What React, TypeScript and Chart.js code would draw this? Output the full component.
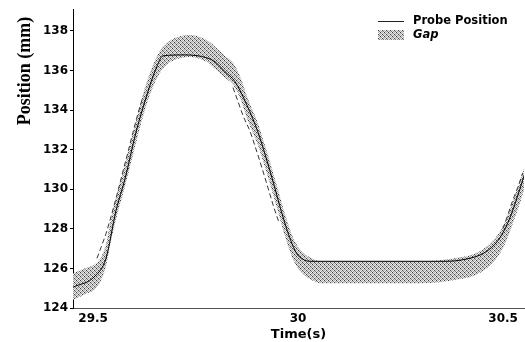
import React, { useEffect, useRef } from 'react';
import { Chart, registerables } from 'chart.js';

Chart.register(...registerables);

// ---- data ----
const bandTimes = [
  29.451, 29.4803, 29.5047, 29.5193, 29.5315, 29.5412, 29.551, 29.5608, 29.573, 29.5851,
  29.5973, 29.6095, 29.6217, 29.6339, 29.6486, 29.6632, 29.6827, 29.7071, 29.7364, 29.7608,
  29.7803, 29.7973, 29.8217, 29.8412, 29.8608, 29.8754, 29.9022, 29.9168, 29.9315, 29.951,
  29.9705, 29.9876, 30.0047, 30.029, 30.0534, 30.1754, 30.2973, 30.3461, 30.3949, 30.4315,
  30.4632, 30.4876, 30.5071, 30.5217, 30.5339, 30.5437, 30.551,
];
const gapUpper = [
  125.76, 126.01, 126.21, 126.56, 127.21, 128.26, 129.17, 129.97, 130.87, 131.83,
  132.83, 133.83, 134.79, 135.59, 136.39, 137.0, 137.45, 137.7, 137.8, 137.7,
  137.5, 137.2, 136.74, 136.39, 135.59, 134.69, 133.33, 132.38, 131.38, 129.97,
  128.57, 127.56, 126.96, 126.56, 126.36, 126.36, 126.36, 126.41, 126.56, 126.76,
  127.16, 127.71, 128.47, 129.27, 129.97, 130.57, 131.07,
];
const gapLower = [
  124.4, 124.7, 124.95, 125.4, 126.11, 127.16, 128.06, 128.87, 129.77, 130.72,
  131.73, 132.73, 133.68, 134.49, 135.29, 135.89, 136.34, 136.59, 136.69, 136.59,
  136.39, 136.09, 135.64, 135.29, 134.49, 133.58, 132.23, 131.28, 130.27, 128.87,
  127.46, 126.46, 125.86, 125.46, 125.25, 125.25, 125.25, 125.3, 125.46, 125.66,
  126.06, 126.61, 127.36, 128.16, 128.87, 129.47, 129.97,
];

const probeTimes = [
  29.451, 29.5047, 29.5315, 29.5559, 29.5778, 29.6046, 29.6339, 29.6534, 29.6705, 29.7242,
  29.7778, 29.7973, 29.8217, 29.8461, 29.8754, 29.9022, 29.9315, 29.9705, 29.9949, 30.012,
  30.029, 30.3583, 30.4071, 30.4559, 30.4876, 30.512, 30.5315, 30.551,
];
const probeValues = [
  125.05, 125.61, 126.51, 128.92, 130.52, 132.88, 134.94, 136.09, 136.74, 136.79,
  136.64, 136.44, 135.94, 135.44, 134.24, 132.88, 130.92, 128.11, 126.81, 126.46,
  126.36, 126.36, 126.46, 126.81, 127.41, 128.32, 129.42, 130.67,
];

// offset (dash-dot) trace, three visible pieces
const offsetRiseTimes = [29.5095, 29.5193, 29.5315, 29.5437, 29.5583, 29.573, 29.5851, 29.5973, 29.6095, 29.6217];
const offsetRiseValues = [126.51, 127.06, 127.76, 128.62, 129.72, 130.92, 131.88, 132.88, 133.83, 134.69];
const offsetFallTimes = [29.8412, 29.8534, 29.8656, 29.8827, 29.8973, 29.912, 29.9266, 29.9412, 29.9534];
const offsetFallValues = [135.14, 134.44, 133.73, 132.93, 132.03, 131.07, 130.07, 129.07, 128.32];
const offsetEndTimes = [30.4998, 30.511, 30.5232, 30.5354, 30.5476];
const offsetEndValues = [128.01, 128.67, 129.42, 130.07, 130.82];

const xTicks = [29.5, 30, 30.5];
const yTicks = [124, 126, 128, 130, 132, 134, 136, 138];
const X_MIN = 29.451;
const X_MAX = 30.551;
const Y_MIN = 124;
const Y_MAX = 139.1;

const legendLabels = ['Probe Position', 'Gap'];
const xTitle = 'Time(s)';
const yTitle = 'Position (mm)';

function pts(xs: number[], ys: number[]) {
  return xs.map((x, i) => ({ x, y: ys[i] }));
}

function makeStipple(ctx: CanvasRenderingContext2D): CanvasPattern | string {
  const tile = document.createElement('canvas');
  tile.width = 4;
  tile.height = 4;
  const c = tile.getContext('2d');
  if (!c) return '#a8a8a8';
  const shades = [
    ['#3a3a3a', '#e6e6e6', '#b4b4b4', '#f4f4f4'],
    ['#d0d0d0', '#8c8c8c', '#f0f0f0', '#a8a8a8'],
    ['#b8b8b8', '#f6f6f6', '#444444', '#dadada'],
    ['#ececec', '#9c9c9c', '#d4d4d4', '#7c7c7c'],
  ];
  shades.forEach((row, j) =>
    row.forEach((col, i) => {
      c.fillStyle = col;
      c.fillRect(i, j, 1, 1);
    })
  );
  return ctx.createPattern(tile, 'repeat') || '#a8a8a8';
}

export default function App() {
  const canvasRef = useRef<HTMLCanvasElement | null>(null);

  useEffect(() => {
    document.body.style.margin = '0';
    const canvas = canvasRef.current;
    if (!canvas) return;
    const ctx = canvas.getContext('2d');
    if (!ctx) return;
    const stipple = makeStipple(ctx);

    const offsetData = [
      ...pts(offsetRiseTimes, offsetRiseValues),
      { x: 29.7, y: null as any },
      ...pts(offsetFallTimes, offsetFallValues),
      { x: 30.2, y: null as any },
      ...pts(offsetEndTimes, offsetEndValues),
    ];

    const overlay = {
      id: 'overlay',
      afterDraw(chart: any) {
        const c = chart.ctx as CanvasRenderingContext2D;
        c.save();
        // y-axis title
        c.translate(25, 71);
        c.rotate(-Math.PI / 2);
        c.fillStyle = '#000';
        c.font = 'bold 18px "Liberation Serif", "Times New Roman", serif';
        c.textAlign = 'center';
        c.textBaseline = 'middle';
        c.fillText(yTitle, 0, 0);
        c.restore();

        c.save();
        // legend
        c.strokeStyle = '#222';
        c.lineWidth = 1;
        c.beginPath();
        c.moveTo(378, 21.5);
        c.lineTo(404, 21.5);
        c.stroke();
        c.fillStyle = stipple as any;
        c.fillRect(378, 30, 26, 10);
        c.fillStyle = '#000';
        c.textAlign = 'left';
        c.textBaseline = 'middle';
        c.font = 'bold 11.5px "DejaVu Sans", sans-serif';
        c.fillText(legendLabels[0], 413, 21);
        c.font = 'italic bold 11.5px "DejaVu Sans", sans-serif';
        c.fillText(legendLabels[1], 413, 35);
        c.restore();
      },
    };

    const chart = new Chart(canvas, {
      type: 'line',
      data: {
        datasets: [
          {
            label: legendLabels[0],
            data: pts(probeTimes, probeValues),
            borderColor: '#000',
            borderWidth: 1,
            pointRadius: 0,
            fill: false,
            cubicInterpolationMode: 'monotone',
            order: 0,
          },
          {
            label: 'offset',
            data: offsetData,
            borderColor: '#333',
            borderWidth: 1,
            borderDash: [5, 3],
            pointRadius: 0,
            fill: false,
            spanGaps: false,
            cubicInterpolationMode: 'monotone',
            order: 1,
          },
          {
            label: legendLabels[1],
            data: pts(bandTimes, gapUpper),
            borderWidth: 0,
            borderColor: 'rgba(0,0,0,0)',
            backgroundColor: stipple as any,
            pointRadius: 0,
            fill: '+1',
            cubicInterpolationMode: 'monotone',
            order: 2,
          },
          {
            label: 'gapLower',
            data: pts(bandTimes, gapLower),
            borderWidth: 0,
            borderColor: 'rgba(0,0,0,0)',
            pointRadius: 0,
            fill: false,
            cubicInterpolationMode: 'monotone',
            order: 3,
          },
        ],
      },
      options: {
        animation: false,
        responsive: true,
        maintainAspectRatio: false,
        devicePixelRatio: 1,
        layout: { padding: { top: 7, right: 1, left: 0, bottom: 0 } },
        plugins: {
          legend: { display: false },
          tooltip: { enabled: false },
          title: { display: false },
        },
        scales: {
          x: {
            type: 'linear',
            min: X_MIN,
            max: X_MAX,
            afterBuildTicks: (s: any) => {
              s.ticks = xTicks.map((v) => ({ value: v }));
            },
            afterFit: (s: any) => {
              s.height = 34;
            },
            ticks: {
              color: '#000',
              font: { family: '"DejaVu Sans", sans-serif', weight: 'bold', size: 12 },
              padding: 4,
              maxRotation: 0,
              autoSkip: false,
              callback: (v: any) => String(v),
            },
            grid: { display: false, drawTicks: false },
            border: { display: true, color: '#555', width: 1 },
            title: {
              display: true,
              text: xTitle,
              color: '#000',
              font: { family: '"DejaVu Sans", sans-serif', weight: 'bold', size: 13 },
              padding: 0,
            },
          },
          y: {
            type: 'linear',
            min: Y_MIN,
            max: Y_MAX,
            afterBuildTicks: (s: any) => {
              s.ticks = yTicks.map((v) => ({ value: v }));
            },
            afterFit: (s: any) => {
              s.width = 73;
            },
            ticks: {
              color: '#000',
              font: { family: '"DejaVu Sans", sans-serif', weight: 'bold', size: 12 },
              padding: 2,
              autoSkip: false,
            },
            grid: {
              display: true,
              drawOnChartArea: false,
              drawTicks: true,
              tickLength: 3,
              color: '#000',
            },
            border: { display: true, color: '#000', width: 1 },
          },
        },
      },
      plugins: [overlay],
    } as any);

    return () => {
      chart.destroy();
    };
  }, []);

  return (
    <div style={{ width: 525, height: 342, position: 'relative' }}>
      <canvas ref={canvasRef} />
    </div>
  );
}
